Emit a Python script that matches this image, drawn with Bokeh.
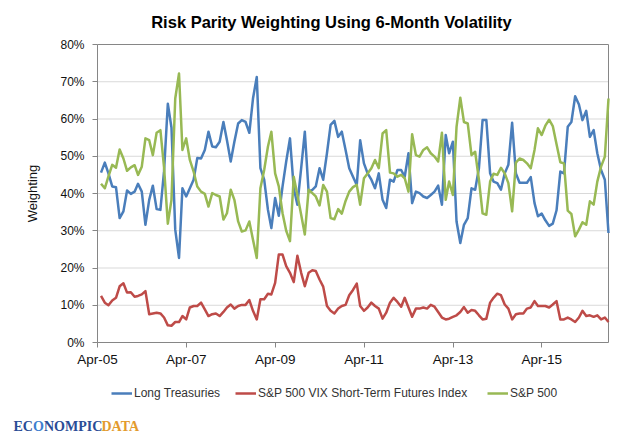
import pandas as pd
from bokeh.plotting import figure
from bokeh.models import (Range1d, FixedTicker, DatetimeTickFormatter, PrintfTickFormatter,
                          Label, Legend, LegendItem, ColumnDataSource)
from bokeh.embed import file_html
from bokeh.resources import INLINE

# ---------------- data ----------------
TITLE = "Risk Parity Weighting Using 6-Month Volatility"
Y_TITLE = "Weighting"
SERIES = ["Long Treasuries", "S&P 500 VIX Short-Term Futures Index", "S&P 500"]
COLORS = ["#4A7EBB", "#BE4B48", "#98B954"]
FIRST_MONTH_END = "2005-04-30"

long_treasuries = [
    45.6, 48.3, 45.4, 41.9, 41.7, 33.4, 35.2, 40.8, 39.9, 40.5,
    42.6, 40.5, 31.6, 38.3, 42.1, 35.8, 35.6, 46.0, 64.1, 57.7,
    30.3, 22.7, 41.4, 39.2, 41.4, 43.7, 49.5, 49.4, 51.7, 56.6,
    52.6, 52.4, 53.9, 59.2, 54.3, 48.6, 53.9, 58.8, 59.7, 59.2,
    56.3, 65.5, 71.3, 46.8, 43.7, 35.6, 30.7, 38.8, 34.0, 41.9,
    48.6, 54.8, 41.4, 37.0, 46.8, 56.6, 40.5, 41.0, 41.9, 46.8,
    43.7, 50.8, 58.4, 59.5, 55.2, 56.6, 51.7, 46.8, 44.5, 42.3,
    54.3, 48.1, 45.4, 43.7, 41.4, 45.4, 38.3, 36.1, 43.7, 43.2,
    46.3, 46.3, 44.5, 50.8, 37.4, 40.5, 40.1, 39.2, 38.8, 39.6,
    40.5, 42.1, 37.0, 55.7, 50.8, 53.9, 32.5, 26.7, 31.6, 33.4,
    41.4, 41.0, 46.8, 59.7, 59.7, 45.4, 43.2, 42.8, 41.0, 45.4,
    47.7, 59.0, 45.4, 42.9, 42.9, 42.9, 44.4, 37.4, 33.9, 34.6,
    32.8, 31.3, 31.9, 35.5, 45.9, 45.4, 57.9, 59.2, 66.1, 63.9,
    59.7, 62.2, 55.2, 57.0, 50.8, 46.3, 43.7, 29.4,
]
vix_futures = [
    12.5, 10.7, 10.0, 11.3, 12.0, 15.1, 15.9, 13.4, 13.5, 12.3,
    12.5, 12.9, 13.8, 7.6, 7.8, 8.0, 7.8, 6.7, 4.6, 4.5,
    5.5, 5.5, 7.1, 6.2, 9.4, 9.8, 9.8, 10.7, 8.9, 7.1,
    7.6, 7.8, 7.1, 8.2, 9.4, 10.2, 9.1, 9.8, 10.1, 10.1,
    11.4, 8.5, 6.2, 11.6, 11.6, 13.1, 12.9, 16.0, 23.6, 23.6,
    20.5, 18.7, 16.2, 23.3, 18.7, 15.1, 18.7, 19.4, 19.2, 16.9,
    15.0, 9.8, 8.5, 7.8, 9.1, 9.8, 10.1, 12.7, 14.1, 15.8,
    9.8, 8.5, 9.4, 10.7, 9.8, 9.1, 6.4, 8.0, 10.7, 12.0,
    10.9, 9.6, 12.0, 9.4, 6.9, 9.1, 9.1, 9.4, 9.1, 10.1,
    9.6, 8.2, 6.7, 6.2, 6.4, 6.9, 7.3, 8.2, 9.5, 8.0,
    8.7, 8.5, 7.3, 6.2, 6.4, 10.7, 12.0, 13.1, 12.7, 10.2,
    9.1, 6.2, 7.6, 7.8, 7.8, 9.1, 9.4, 11.1, 9.8, 9.8,
    9.8, 9.4, 10.2, 11.1, 6.2, 6.2, 6.7, 6.2, 5.5, 6.7,
    8.5, 7.1, 7.3, 6.9, 7.3, 6.2, 6.7, 5.5,
]
sp500 = [
    42.6, 41.4, 44.6, 47.7, 46.9, 51.8, 49.4, 46.1, 47.0, 47.6,
    45.0, 47.2, 54.8, 54.3, 50.3, 56.3, 57.0, 47.0, 31.9, 38.3,
    65.5, 72.2, 51.7, 54.8, 49.0, 45.9, 41.9, 40.5, 39.9, 36.5,
    40.1, 39.6, 39.2, 33.0, 34.7, 41.0, 38.3, 32.5, 29.8, 30.1,
    32.5, 27.6, 22.7, 41.4, 46.3, 52.6, 56.6, 45.4, 41.9, 34.7,
    30.0, 27.2, 44.5, 39.6, 34.3, 29.0, 41.0, 40.1, 39.2, 36.8,
    42.3, 40.5, 33.4, 33.1, 35.8, 34.6, 38.0, 40.5, 41.7, 42.3,
    37.0, 44.1, 45.4, 46.8, 49.0, 46.8, 56.1, 57.0, 45.6, 45.4,
    44.5, 45.0, 44.1, 40.5, 55.9, 50.3, 49.9, 51.7, 52.4, 50.8,
    49.9, 48.6, 56.3, 38.3, 43.2, 39.6, 57.9, 65.7, 59.2, 58.8,
    50.3, 51.2, 43.7, 34.7, 34.3, 43.2, 45.3, 45.0, 46.9, 45.4,
    42.8, 35.2, 48.3, 49.4, 49.0, 48.1, 46.8, 51.7, 57.5, 55.7,
    58.2, 59.8, 58.1, 53.2, 48.4, 48.1, 35.4, 34.5, 28.5, 30.3,
    32.3, 31.6, 37.9, 37.0, 43.2, 47.2, 49.9, 65.5,
]

x_tick_labels = ["Apr-05", "Apr-07", "Apr-09", "Apr-11", "Apr-13", "Apr-15"]
y_ticks = [0, 10, 20, 30, 40, 50, 60, 70, 80]

# ---------------- derived ----------------
dates = pd.date_range(FIRST_MONTH_END, periods=len(long_treasuries), freq="ME")
tick_dates = [pd.to_datetime(t, format="%b-%y") for t in x_tick_labels]
source = ColumnDataSource(dict(date=dates, lt=long_treasuries, vix=vix_futures, sp=sp500))

FONT = "Liberation Sans"
AXIS_GRAY = "#868686"
W, H = 640, 440
# plot-area placement inside the canvas (pixels)
FL, FR, FT, FB = 97, 608, 44, 342

x0 = tick_dates[0].value / 1e6
x1 = dates[-1].value / 1e6
y0, y1 = y_ticks[0], y_ticks[-1]
sx = (x1 - x0) / (FR - FL)
sy = (y1 - y0) / (FB - FT)

p = figure(width=W, height=H, x_axis_type="datetime",
           x_range=Range1d(start=x0 - FL * sx, end=x1 + (W - FR) * sx),
           y_range=Range1d(start=y0 - (H - FB) * sy, end=y1 + FT * sy),
           output_backend="svg", toolbar_location=None,
           min_border=0, min_border_left=0, min_border_right=0,
           min_border_top=0, min_border_bottom=0)
p.background_fill_color = "white"
p.border_fill_color = "white"
p.outline_line_color = None
p.grid.visible = False

# axes pinned to the plot-area edges
xa = p.xaxis[0]
ya = p.yaxis[0]
xa.fixed_location = y0
ya.fixed_location = x0
xa.bounds = (x0, x1)
ya.bounds = (y0, y1)

xa.ticker = FixedTicker(ticks=[t.value / 1e6 for t in tick_dates])
fmt = "%b-%y"
xa.formatter = DatetimeTickFormatter(microseconds=fmt, milliseconds=fmt, seconds=fmt,
                                     minsec=fmt, minutes=fmt, hourmin=fmt, hours=fmt,
                                     days=fmt, months=fmt, years=fmt)
ya.ticker = FixedTicker(ticks=y_ticks)
ya.formatter = PrintfTickFormatter(format="%d%%")

for ax in (xa, ya):
    ax.axis_line_color = AXIS_GRAY
    ax.major_tick_line_color = AXIS_GRAY
    ax.major_tick_out = 5
    ax.major_tick_in = 0
    ax.minor_tick_line_color = None
    ax.major_label_text_font = FONT
    ax.major_label_text_color = "#111111"

xa.major_label_text_font_size = "13.5px"
xa.major_label_standoff = 4
ya.major_label_text_font_size = "12px"
ya.major_label_standoff = 8
ya.axis_label = Y_TITLE
ya.axis_label_text_font = FONT
ya.axis_label_text_font_style = "normal"
ya.axis_label_text_font_size = "13px"
ya.axis_label_text_color = "#111111"
ya.axis_label_standoff = 17

# horizontal gridlines and the top/right frame of the plot area
grid_levels = y_ticks[1:-1]
p.segment(x0=[x0] * len(grid_levels), x1=[x1] * len(grid_levels),
          y0=grid_levels, y1=grid_levels, line_color="#D9D9D9", line_width=1)
p.segment(x0=[x0, x1], x1=[x1, x1], y0=[y1, y0], y1=[y1, y1],
          line_color=AXIS_GRAY, line_width=1)

renderers = []
for c, color in zip(["lt", "vix", "sp"], COLORS):
    r = p.line("date", c, source=source, line_color=color, line_width=2.5,
               line_join="round")
    renderers.append(r)

# title (screen units: from the canvas bottom-left)
p.add_layout(Label(x=331, y=H - 21, x_units="screen", y_units="screen", text=TITLE,
                   text_align="center", text_baseline="alphabetic",
                   text_font=FONT, text_font_size="16.5px", text_font_style="bold",
                   text_color="#000000"))

# legend: one block per series
legend_x = [111, 235, 487]
for name, r, lx in zip(SERIES, renderers, legend_x):
    leg = Legend(items=[LegendItem(label=name, renderers=[r])], location=(lx, H - 400),
                 orientation="horizontal", glyph_width=21, glyph_height=14,
                 label_height=14, label_standoff=2, padding=0, margin=0,
                 border_line_alpha=0, background_fill_alpha=0,
                 label_text_font=FONT, label_text_font_size="12px",
                 label_text_color="#333333")
    p.add_layout(leg)

# logo text
logo_parts = [("EC", 13, "#2A4C96"), ("O", 32.5, "#3D7FD0"),
              ("NOMPIC", 43.5, "#2A4C96"), ("DATA", 101, "#E39B2D")]
for txt, lx, col in logo_parts:
    p.add_layout(Label(x=lx, y=H - 426, x_units="screen", y_units="screen", text=txt,
                       text_align="left", text_baseline="alphabetic",
                       text_font="Liberation Serif", text_font_size="14px",
                       text_font_style="bold", text_color=col))

open("out.html", "w").write(file_html(p, INLINE))
